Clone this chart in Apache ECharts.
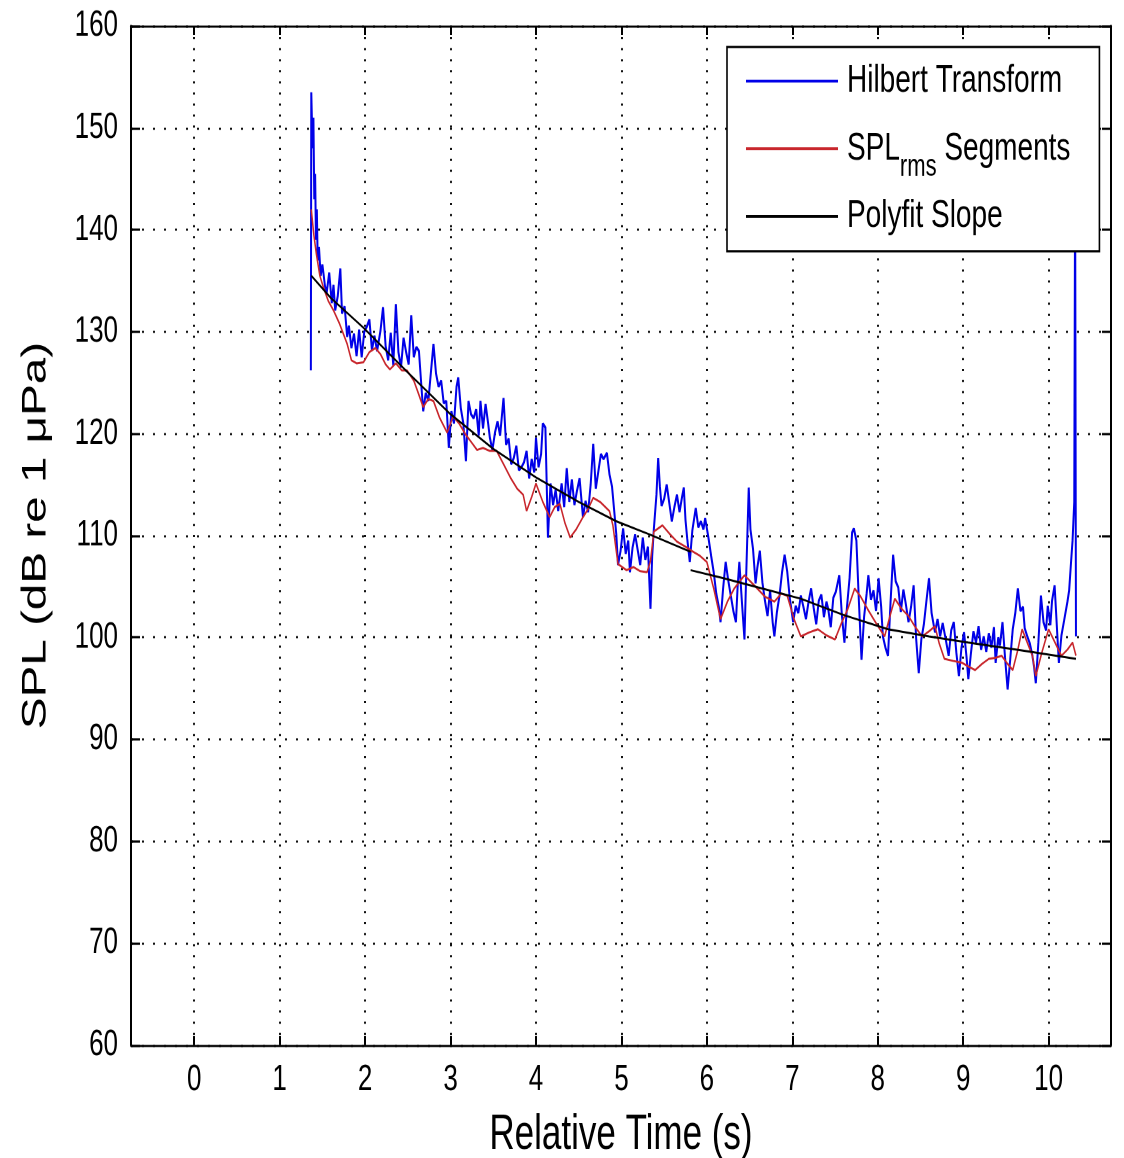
<!DOCTYPE html>
<html>
<head>
<meta charset="utf-8">
<script src="https://cdn.jsdelivr.net/npm/echarts@6/dist/echarts.min.js"></script>
<style>
  html, body { margin: 0; padding: 0; background: #fff; }
  #wrap { width: 1124px; height: 1158px; position: relative; overflow: hidden; background: #fff; }
  #chart { width: 1124px; height: 827px; position: absolute; left: 0; top: 0; transform-origin: 0 0; }
</style>
</head>
<body>
<div id="wrap"><div id="chart"></div></div>
<script>
  // tick labels
  var xTicks = [0, 1, 2, 3, 4, 5, 6, 7, 8, 9, 10]

  // Hilbert Transform envelope (s, dB)
  var hilbertTime = [
    1.365, 1.37, 1.385, 1.395, 1.405, 1.415, 1.425, 1.435, 1.445, 1.46, 1.48, 1.5, 1.53, 1.55, 1.58, 1.61, 1.63, 1.65, 1.68, 1.71,
    1.73, 1.76, 1.79, 1.81, 1.84, 1.87, 1.9, 1.93, 1.96, 1.99, 2.02, 2.05, 2.08, 2.11, 2.14, 2.18, 2.21, 2.24, 2.27, 2.3,
    2.33, 2.36, 2.39, 2.42, 2.45, 2.48, 2.51, 2.54, 2.57, 2.6, 2.63, 2.66, 2.68, 2.71, 2.74, 2.77, 2.8, 2.83, 2.86, 2.89,
    2.92, 2.95, 2.98, 3.01, 3.04, 3.07, 3.09, 3.12, 3.15, 3.18, 3.21, 3.24, 3.27, 3.3, 3.33, 3.35, 3.38, 3.41, 3.44, 3.46,
    3.49, 3.52, 3.55, 3.58, 3.62, 3.65, 3.68, 3.71, 3.74, 3.77, 3.8, 3.83, 3.86, 3.89, 3.92, 3.95, 3.98, 4.0, 4.03, 4.06,
    4.08, 4.11, 4.14, 4.17, 4.2, 4.23, 4.26, 4.3, 4.33, 4.36, 4.39, 4.42, 4.45, 4.48, 4.51, 4.55, 4.58, 4.61, 4.64, 4.67,
    4.7, 4.73, 4.76, 4.79, 4.83, 4.86, 4.89, 4.92, 4.94, 4.96, 4.99, 5.02, 5.05, 5.08, 5.1, 5.13, 5.16, 5.19, 5.22, 5.25,
    5.28, 5.31, 5.34, 5.36, 5.38, 5.41, 5.43, 5.45, 5.47, 5.5, 5.53, 5.56, 5.59, 5.62, 5.65, 5.68, 5.71, 5.73, 5.75, 5.77,
    5.8, 5.83, 5.87, 5.9, 5.93, 5.96, 5.98, 6.02, 6.05, 6.08, 6.11, 6.14, 6.16, 6.19, 6.22, 6.25, 6.28, 6.31, 6.34, 6.36,
    6.38, 6.41, 6.44, 6.46, 6.49, 6.51, 6.54, 6.57, 6.59, 6.62, 6.65, 6.68, 6.71, 6.74, 6.77, 6.79, 6.82, 6.85, 6.88, 6.91,
    6.94, 6.97, 7.01, 7.04, 7.07, 7.1, 7.13, 7.16, 7.19, 7.22, 7.25, 7.28, 7.31, 7.34, 7.37, 7.4, 7.42, 7.45, 7.48, 7.51,
    7.55, 7.58, 7.61, 7.64, 7.67, 7.7, 7.72, 7.75, 7.78, 7.81, 7.84, 7.87, 7.89, 7.92, 7.95, 7.98, 8.01, 8.04, 8.06, 8.09,
    8.12, 8.15, 8.18, 8.21, 8.24, 8.27, 8.3, 8.33, 8.36, 8.39, 8.42, 8.45, 8.48, 8.51, 8.54, 8.57, 8.6, 8.63, 8.67, 8.7,
    8.73, 8.76, 8.8, 8.83, 8.86, 8.89, 8.92, 8.95, 8.98, 9.01, 9.04, 9.06, 9.09, 9.12, 9.15, 9.18, 9.21, 9.24, 9.27, 9.3,
    9.33, 9.36, 9.38, 9.41, 9.43, 9.46, 9.49, 9.52, 9.55, 9.58, 9.61, 9.64, 9.67, 9.7, 9.72, 9.75, 9.78, 9.81, 9.83, 9.85,
    9.88, 9.91, 9.94, 9.97, 9.99, 10.02, 10.04, 10.07, 10.1, 10.12, 10.15, 10.18, 10.22, 10.24, 10.26, 10.28, 10.3, 10.31, 10.32
  ]
  var hilbertSpl = [
    126.2, 153.5, 148, 151, 143, 145.5, 139, 142, 137, 138.3, 135.5, 136.6, 134.5, 133.8, 135.8, 132.8, 134.6, 132.1, 133.5, 136.2,
    131.8, 132.5, 129.5, 130.6, 128.4, 129.8, 127.6, 130.2, 127.5, 130, 130.5, 131.2, 128.2, 129.6, 128.1, 130.1, 132.4, 128.6, 127.2, 129.9,
    126.7, 132.7, 128, 126.5, 129.4, 128, 126.8, 131.6, 127.5, 128.5, 128.1, 124.5, 122.2, 124, 123.2, 126, 128.8, 125.9, 124.6, 125.2,
    123, 123.2, 118.6, 122.2, 121, 124.6, 125.5, 122.5, 121, 117.3, 123.2, 121.9, 121.5, 122.4, 119.8, 123.2, 120.5, 122.9, 121, 119.6,
    118.4, 120.1, 121.2, 119.8, 123.5, 118.9, 119.5, 117, 117.6, 118.8, 116.4, 116.7, 117.2, 118.3, 115.6, 117.5, 116.2, 119.6, 116.7, 118,
    121, 120.6, 109.8, 115.1, 113, 114.5, 112.4, 115.1, 112.8, 116.6, 113.3, 115.5, 113, 114.4, 115.6, 111.8, 113.4, 112.3, 115, 119,
    114.6, 116.3, 118, 117.5, 118.1, 116, 114.8, 112, 110.1, 107.1, 108.5, 110.7, 108.2, 109.5, 106.4, 108.8, 110.1, 108.6, 107.1, 109.8,
    107.6, 108.9, 102.8, 108, 110.7, 114, 117.6, 114.8, 112.9, 113.6, 115, 113.2, 111.4, 112.8, 114, 112.3, 113.8, 114.7, 111.5, 109.7,
    107.4, 110.5, 112.7, 110.8, 111.4, 110.6, 111.7, 109.7, 108, 106.4, 104.3, 103, 101.5, 104.8, 107.4, 105.6, 104.1, 102.6, 101.5, 105,
    107.4, 103.5, 99.8, 106, 114.7, 110.6, 108.7, 105.3, 106.8, 108.5, 105.4, 103.6, 102.1, 104.6, 101.5, 100.1, 102.5, 104.1, 106.4, 108.1,
    106.5, 103.9, 101.5, 103.1, 102.4, 104.1, 103, 101.8, 103.5, 104.8, 102.9, 101.3, 103.6, 104.2, 102, 103.5, 102.8, 101, 103.9, 104.5,
    106.1, 102.2, 99.5, 103, 105.8, 110.3, 110.7, 109.5, 103.4, 97.8, 102, 104.3, 106.1, 103.7, 104.6, 102.6, 105.8, 103, 100.1, 99,
    98.2, 103.5, 108.1, 105.5, 104.9, 102.5, 104.7, 103.2, 101.5, 103, 105.1, 99.8, 96.5, 99.8, 101.3, 103.6, 105.8, 102.4, 100.5, 101.8,
    100.1, 101.4, 99.6, 98.2, 100.7, 101.5, 98.5, 96.2, 99, 100.5, 98, 95.9, 98.4, 100.6, 99.5, 101.1, 98.8, 100.1, 98.6, 100.4,
    99, 101, 97.5, 100, 99.2, 101.5, 98, 94.9, 97.8, 100.8, 102.4, 104.8, 102.6, 103, 100.9, 100.1, 99.4, 98.2, 97.1, 95.5,
    99.5, 104.1, 101.5, 100.7, 103.1, 101.2, 103.6, 105.1, 100.5, 97.5, 100.2, 101.6, 103.5, 104.6, 107.1, 109.5, 113.3, 145, 100.1
  ]

  // SPL rms segments
  var rmsTime = [
    1.37, 1.4, 1.43, 1.47, 1.51, 1.57, 1.63, 1.7, 1.79, 1.84, 1.9, 1.98, 2.05, 2.12, 2.18, 2.24, 2.29, 2.36, 2.43, 2.49,
    2.57, 2.63, 2.68, 2.74, 2.8, 2.87, 2.96, 3.03, 3.1, 3.17, 3.24, 3.31, 3.38, 3.46, 3.54, 3.62, 3.7, 3.78, 3.85, 3.89,
    3.95, 4.0, 4.08, 4.16, 4.22, 4.28, 4.34, 4.4, 4.47, 4.55, 4.61, 4.67, 4.75, 4.86, 4.9, 4.96, 5.06, 5.14, 5.22, 5.3,
    5.34, 5.38, 5.48, 5.56, 5.65, 5.75, 5.84, 5.92, 6.0, 6.08, 6.16, 6.24, 6.32, 6.44, 6.52, 6.59, 6.68, 6.79, 6.87, 6.94,
    7.02, 7.1, 7.2, 7.3, 7.4, 7.5, 7.58, 7.65, 7.73, 7.8, 7.88, 7.98, 8.08, 8.14, 8.2, 8.28, 8.36, 8.44, 8.52, 8.6,
    8.67, 8.72, 8.78, 8.88, 8.99, 9.07, 9.14, 9.22, 9.3, 9.38, 9.45, 9.52, 9.58, 9.64, 9.69, 9.75, 9.81, 9.85, 9.92, 10.0,
    10.08, 10.15, 10.22, 10.28, 10.32
  ]
  var rmsSpl = [
    142, 139.5, 137.6, 135.5, 134.4, 133, 132.1, 130.8, 128.8, 127.2, 126.9, 127, 128, 128.4, 127.8, 126.8, 126.3, 126.9, 126.2, 126.2,
    125.2, 123.8, 122.6, 123.4, 123.2, 121.6, 120.1, 121.7, 121, 120, 119.2, 118.4, 118.6, 118.3, 118.3, 117, 115.7, 114.6, 114, 112.4,
    113.8, 115.1, 113.3, 111.8, 112.8, 113.1, 111.2, 109.8, 110.6, 111.8, 112.6, 113.7, 113.3, 112.4, 111, 107.2, 106.6, 106.9, 106.5, 106.4,
    107.5, 110.4, 111, 110.2, 109.4, 108.9, 108.4, 108, 107.4, 104.8, 101.8, 103.5, 104.8, 106.1, 105.4, 104.8, 104, 103.5, 104.3, 104.1,
    101.8, 100.1, 100.5, 100.8, 100.2, 99.8, 101.5, 102.8, 104.8, 104, 102.8, 101.4, 100.1, 102, 103.8, 102.8, 102.1, 101, 100.1, 100.6,
    101.1, 99.4, 97.9, 97.7, 97.5, 97.1, 96.8, 97.4, 97.9, 98, 98.2, 97.4, 96.8, 98.8, 100.8, 99.5, 98.2, 96.2, 98.5, 100.8,
    99.4, 98.2, 98.8, 99.5, 98.2
  ]

  // Polyfit slope, two fitted pieces
  var fitTimeA = [1.37, 1.6, 1.98, 2.5, 3.0, 3.5, 4.0, 4.5, 4.94, 5.33, 5.81]
  var fitSplA = [135.5, 133.3, 130.4, 126.0, 121.9, 118.5, 115.7, 113.3, 111.4, 110.1, 108.4]
  var fitTimeB = [5.81, 6.2, 6.6, 7.1, 7.6, 8.12, 8.6, 9.06, 9.7, 10.32]
  var fitSplB = [106.6, 105.8, 104.9, 103.8, 102.2, 100.8, 100.1, 99.5, 98.7, 97.9]

  function pairs(t, v) {
    var out = []
    for (var i = 0; i < t.length; i++) {
      out.push([t[i], v[i]])
    }
    return out
  }

  var fitData = pairs(fitTimeA, fitSplA).concat([[fitTimeA[fitTimeA.length - 1], '-']], pairs(fitTimeB, fitSplB))

  // the original figure is stretched vertically (tall, narrow lettering),
  // so the chart is drawn at 827px and scaled up to 1158px
  var S = 1158 / 827
  var el = document.getElementById('chart')
  el.style.transform = 'scaleY(' + S + ')'

  var font = '"Liberation Sans", Arial, sans-serif'
  var black = '#000'

  var chart = echarts.init(el, null, { devicePixelRatio: 2 })

  chart.setOption({
    backgroundColor: '#ffffff',
    animation: false,
    grid: {
      left: 131,
      right: 13,
      top: 26 / S,
      bottom: 113 / S,
      containLabel: false,
      outerBoundsMode: 'none',
    },
    legend: {
      orient: 'vertical',
      left: 727,
      top: 47 / S,
      padding: [1.3, 29, 2, 18],
      itemGap: 0.8,
      itemWidth: 92,
      itemHeight: 1,
      backgroundColor: '#ffffff',
      borderColor: black,
      borderWidth: 1.6,
      borderRadius: 0,
      formatter: function (name) {
        return name === 'SPLrms Segments' ? 'SPL{sub|rms} Segments' : name
      },
      textStyle: {
        color: black,
        fontFamily: font,
        fontSize: 28,
        lineHeight: 46,
        padding: [0, 0, 0, 4],
        rich: {
          sub: {
            color: black,
            fontFamily: font,
            fontSize: 22,
            lineHeight: 46,
            padding: [27, 0, 0, 0],
          },
        },
      },
      data: ['Hilbert Transform', 'SPLrms Segments', 'Polyfit Slope'],
    },
    xAxis: [
      {
        type: 'value',
        min: -0.74,
        max: 10.73,
        name: 'Relative Time (s)',
        nameLocation: 'middle',
        nameGap: 47,
        nameTextStyle: {
          fontFamily: font,
          fontSize: 35,
          color: black,
        },
        axisLine: { onZero: false, lineStyle: { color: black, width: 1.6 } },
        axisTick: { inside: true, length: 9 / S, customValues: xTicks, lineStyle: { color: black, width: 2 } },
        axisLabel: {
          customValues: xTicks,
          margin: 12,
          fontFamily: font,
          fontSize: 26,
          color: black,
        },
        splitLine: { show: true, lineStyle: { color: '#111', width: 2, type: [1.5, 6.4] } },
      },
      {
        type: 'value',
        position: 'top',
        min: -0.74,
        max: 10.73,
        axisLine: { onZero: false, lineStyle: { color: black, width: 1.6 } },
        axisTick: { inside: true, length: 9 / S, customValues: xTicks, lineStyle: { color: black, width: 2 } },
        axisLabel: { show: false },
        splitLine: { show: false },
      },
    ],
    yAxis: [
      {
        type: 'value',
        min: 60,
        max: 160,
        interval: 10,
        name: 'SPL (dB re 1 μPa)',
        nameLocation: 'middle',
        nameGap: 78,
        nameTextStyle: {
          fontFamily: font,
          fontSize: 34,
          color: black,
        },
        axisLine: { show: true, onZero: false, lineStyle: { color: black, width: 2 } },
        axisTick: { show: true, inside: true, length: 9, lineStyle: { color: black, width: 1.6 } },
        axisLabel: {
          margin: 13,
          fontFamily: font,
          fontSize: 26,
          color: black,
        },
        splitLine: { show: true, lineStyle: { color: '#111', width: 1.5, type: [2, 9] } },
      },
      {
        type: 'value',
        position: 'right',
        min: 60,
        max: 160,
        interval: 10,
        axisLine: { show: true, onZero: false, lineStyle: { color: black, width: 2 } },
        axisTick: { show: true, inside: true, length: 9, lineStyle: { color: black, width: 1.6 } },
        axisLabel: { show: false },
        splitLine: { show: false },
      },
    ],
    series: [
      {
        name: 'Hilbert Transform',
        type: 'line',
        symbol: 'none',
        color: '#0000e8',
        lineStyle: { width: 2, color: '#0000e8' },
        data: pairs(hilbertTime, hilbertSpl),
        z: 2,
      },
      {
        name: 'SPLrms Segments',
        type: 'line',
        symbol: 'none',
        color: '#c8262c',
        lineStyle: { width: 1.5, color: '#c8262c' },
        data: pairs(rmsTime, rmsSpl),
        z: 3,
      },
      {
        name: 'Polyfit Slope',
        type: 'line',
        symbol: 'none',
        color: black,
        connectNulls: false,
        lineStyle: { width: 1.5, color: black },
        data: fitData,
        z: 3,
      },
    ],
  })
</script>
</body>
</html>
